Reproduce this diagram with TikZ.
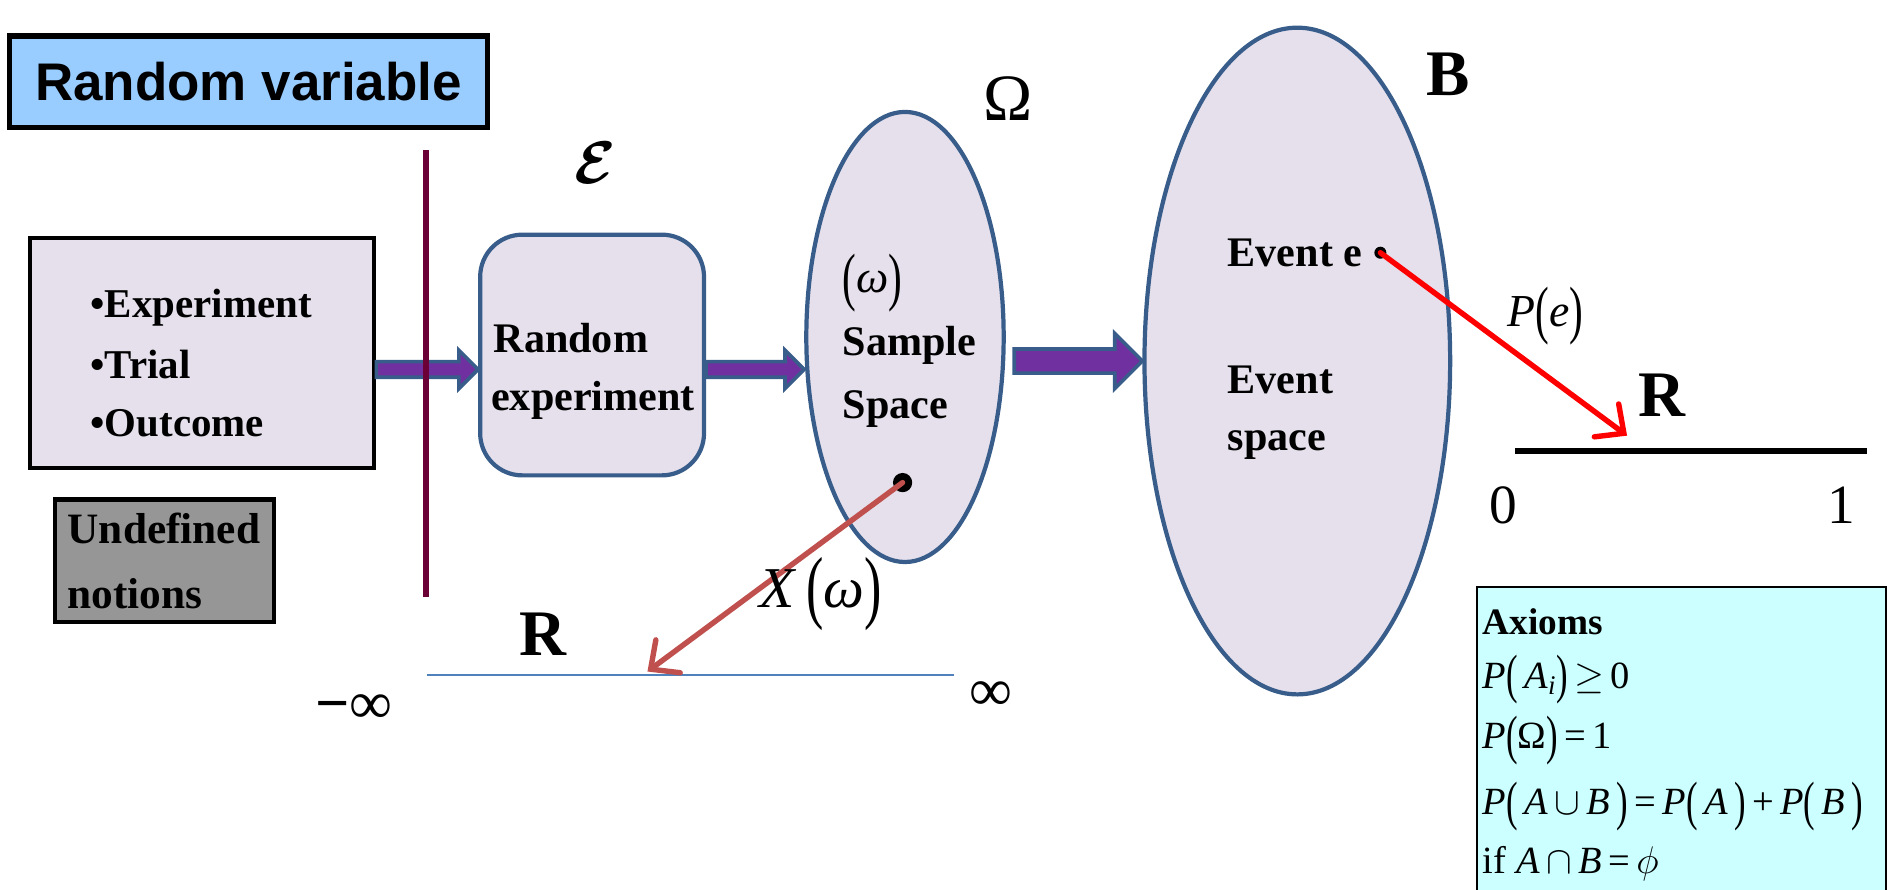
\RequirePackage{fix-cm}
\documentclass[tikz,border=0pt]{standalone}
\usepackage{fontspec}
\usepackage{graphicx}
\usepackage{bm}
\setmainfont{Liberation Serif}
\newfontfamily\titlefont{Liberation Sans}
\usetikzlibrary{shapes.geometric,arrows.meta,calc}

\definecolor{lav}{HTML}{E5E0EC}
\definecolor{edgeblue}{HTML}{385D8A}
\definecolor{arrowpurple}{HTML}{7030A0}
\definecolor{skyfill}{HTML}{99CCFF}
\definecolor{greyfill}{HTML}{969696}
\definecolor{cyanfill}{HTML}{CCFFFF}
\definecolor{maroonline}{HTML}{6B0036}
\definecolor{brickred}{HTML}{C0504D}
\definecolor{lineblue}{HTML}{4F81BD}

\newcommand\fs[1]{\fontsize{#1}{1.2\dimexpr #1pt\relax}\selectfont}
\newcommand\lpar{\raisebox{-0.12em}{\scalebox{0.9}[1.4]{(}}}
\newcommand\rpar{\raisebox{-0.12em}{\scalebox{0.9}[1.4]{)}}}

% block arrow: start, end, half shaft, half head, head length
\newcommand\blockarrow[5]{%
  \path[blockarrow] let \p1=#1, \p2=#2 in
    (\x1,\y1+#3) -- (\x2-#5,\y1+#3) -- (\x2-#5,\y1+#4) -- (\x2,\y1)
    -- (\x2-#5,\y1-#4) -- (\x2-#5,\y1-#3) -- (\x1,\y1-#3) -- cycle;}

\tikzset{
  blockarrow/.style={fill=arrowpurple, draw=edgeblue, line width=3pt, line join=miter},
  plainbox/.style={draw=black, line width=3.5pt, inner sep=0pt},
  bluebox/.style={draw=edgeblue, line width=3.5pt, fill=lav, inner sep=0pt},
  lefttext/.style={anchor=west, inner sep=0pt},
  bodytext/.style={lefttext, font=\fs{34}\bfseries},
  axtext/.style={lefttext, font=\fs{32}},
  dot/.style={circle, fill=black, inner sep=0pt},
  maparrow/.style={line width=4.5pt, line cap=round, -{Straight Barb[length=18pt,width=34pt,line cap=round]}},
}

\begin{document}
\begin{tikzpicture}[x=1pt, y=-1pt]
\useasboundingbox (0,0) rectangle (1568,739);

% title
\node[plainbox, line width=4.5pt, fill=skyfill, minimum width=397pt, minimum height=76pt]
  (title) at (206.5,68) {\titlefont\fs{44}\bfseries Random variable};

% undefined notions
\node[plainbox, fill=lav, minimum width=286pt, minimum height=191pt] (list) at (168,293.5) {};
\node[bodytext] (l1) at (75,256) {•Experiment};
\node[bodytext] (l2) at (75,303) {•Trial};
\node[bodytext] (l3) at (75,352) {•Outcome};

\node[plainbox, fill=greyfill, minimum width=182pt, minimum height=102pt] (undef) at (137,466) {};
\node[bodytext, font=\fs{36}\bfseries] (u1) at (56,439) {Undefined};
\node[bodytext, font=\fs{36}\bfseries] (u2) at (56,493) {notions};

% random experiment
\node[bluebox, rounded corners=35pt, minimum width=186pt, minimum height=200pt] (rexp) at (492,295) {};
\node[bodytext, font=\fs{35}\bfseries] (r1) at (410,281) {Random};
\node[bodytext, font=\fs{35}\bfseries] (r2) at (408,333) {experiment};
\node (calE) at (495,135) {\fs{50}$\bm{\mathcal{E}}$};

% sample space
\node[bluebox, ellipse, minimum width=164pt, minimum height=374pt] (omega) at (752,280) {};
\node[lefttext, font=\fs{38}] (wlab) at (700,235) {\lpar\textit{ω}\rpar};
\node[bodytext, font=\fs{35}\bfseries] (s1) at (700,287) {Sample};
\node[bodytext, font=\fs{35}\bfseries] (s2) at (700,340) {Space};
\node[dot, minimum size=16pt] (wdot) at (750,401) {};
\node (Om) at (838,82) {\fs{55}Ω};

% event space
\node[bluebox, ellipse, minimum width=254pt, minimum height=554pt] (bsp) at (1078,300) {};
\node[bodytext, font=\fs{35}\bfseries] (ev) at (1020,210) {Event e};
\node[dot, minimum size=10pt] (edot) at (1147,210) {};
\node[bodytext, font=\fs{35}\bfseries] (es1) at (1020,316) {Event};
\node[bodytext, font=\fs{35}\bfseries] (es2) at (1020,370) {space};
\node (Blab) at (1203,62) {\fs{54}\bfseries B};

% block arrows
\coordinate (ya) at (0,307);
\coordinate (yb) at (0,300);
\blockarrow{(list.east |- ya)}{(rexp.west |- ya)}{6.5pt}{16pt}{16pt}
\blockarrow{(rexp.east |- ya)}{(omega.west |- ya)}{6.5pt}{16pt}{16pt}
\coordinate (a3s) at ($(omega.east |- yb)+(7,0)$);
\blockarrow{(a3s)}{(bsp.west |- yb)}{10pt}{23pt}{23pt}

% separator
\coordinate (sepT) at (354,125);
\coordinate (sepB) at (354,496);
\draw[maroonline, line width=5pt] (sepT) -- (sepB);

% real line for X
\coordinate (rl) at (355,561);
\coordinate (rr) at (793,561);
\draw[lineblue, line width=1.8pt] (rl) -- (rr);
\node (Rleft) at (451,527) {\fs{54}\bfseries R};
\node (minf) at (294,589) {\fs{50}\textbf{−}∞};
\node (pinf) at (823,578) {\fs{50}∞};
\coordinate (xend) at (538,558);
\draw[maparrow, brickred] (wdot.center) -- (xend);
\node (Xlab) at (682,494) {\fs{48}\textit{X}\,\lpar\textit{ω}\rpar};

% unit interval for P
\coordinate (zl) at (1259,375);
\coordinate (zr) at (1551,375);
\draw[black, line width=5pt] (zl) -- (zr);
\node (Rright) at (1381,328) {\fs{54}\bfseries R};
\node (zero) at (1249,420) {\fs{46}0};
\node (one) at (1530,420) {\fs{46}1};
\coordinate (pend) at (1352,362);
\draw[maparrow, red] (edot.center) -- (pend);
\node (Plab) at (1284,263) {\fs{38}\textit{P}\lpar\textit{e}\rpar};

% axioms
\node[draw=black, line width=1.5pt, fill=cyanfill, minimum width=340pt, minimum height=252pt, inner sep=0pt]
  (axbox) at (1397,614) {};
\node[axtext, font=\fs{31}\bfseries] (ax0) at (1232,517) {Axioms};
\node[axtext] (ax1) at (1232,565) {\textit{P}\lpar\,\textit{A}\textsubscript{\textit{i}}\rpar\,$\geq$\,0};
\node[axtext] (ax2) at (1232,615) {\textit{P}\lpar Ω\rpar\,=\,1};
\node[axtext] (ax3) at (1232,670) {\textit{P}\lpar\,\textit{A}\,$\cup$\,\textit{B}\,\rpar\,=\,\textit{P}\lpar\,\textit{A}\,\rpar\,+\,\textit{P}\lpar\,\textit{B}\,\rpar};
\node[axtext] (ax4) at (1232,718) {if \textit{A}\,$\cap$\,\textit{B}\,=\,$\phi$};
\end{tikzpicture}
\end{document}
